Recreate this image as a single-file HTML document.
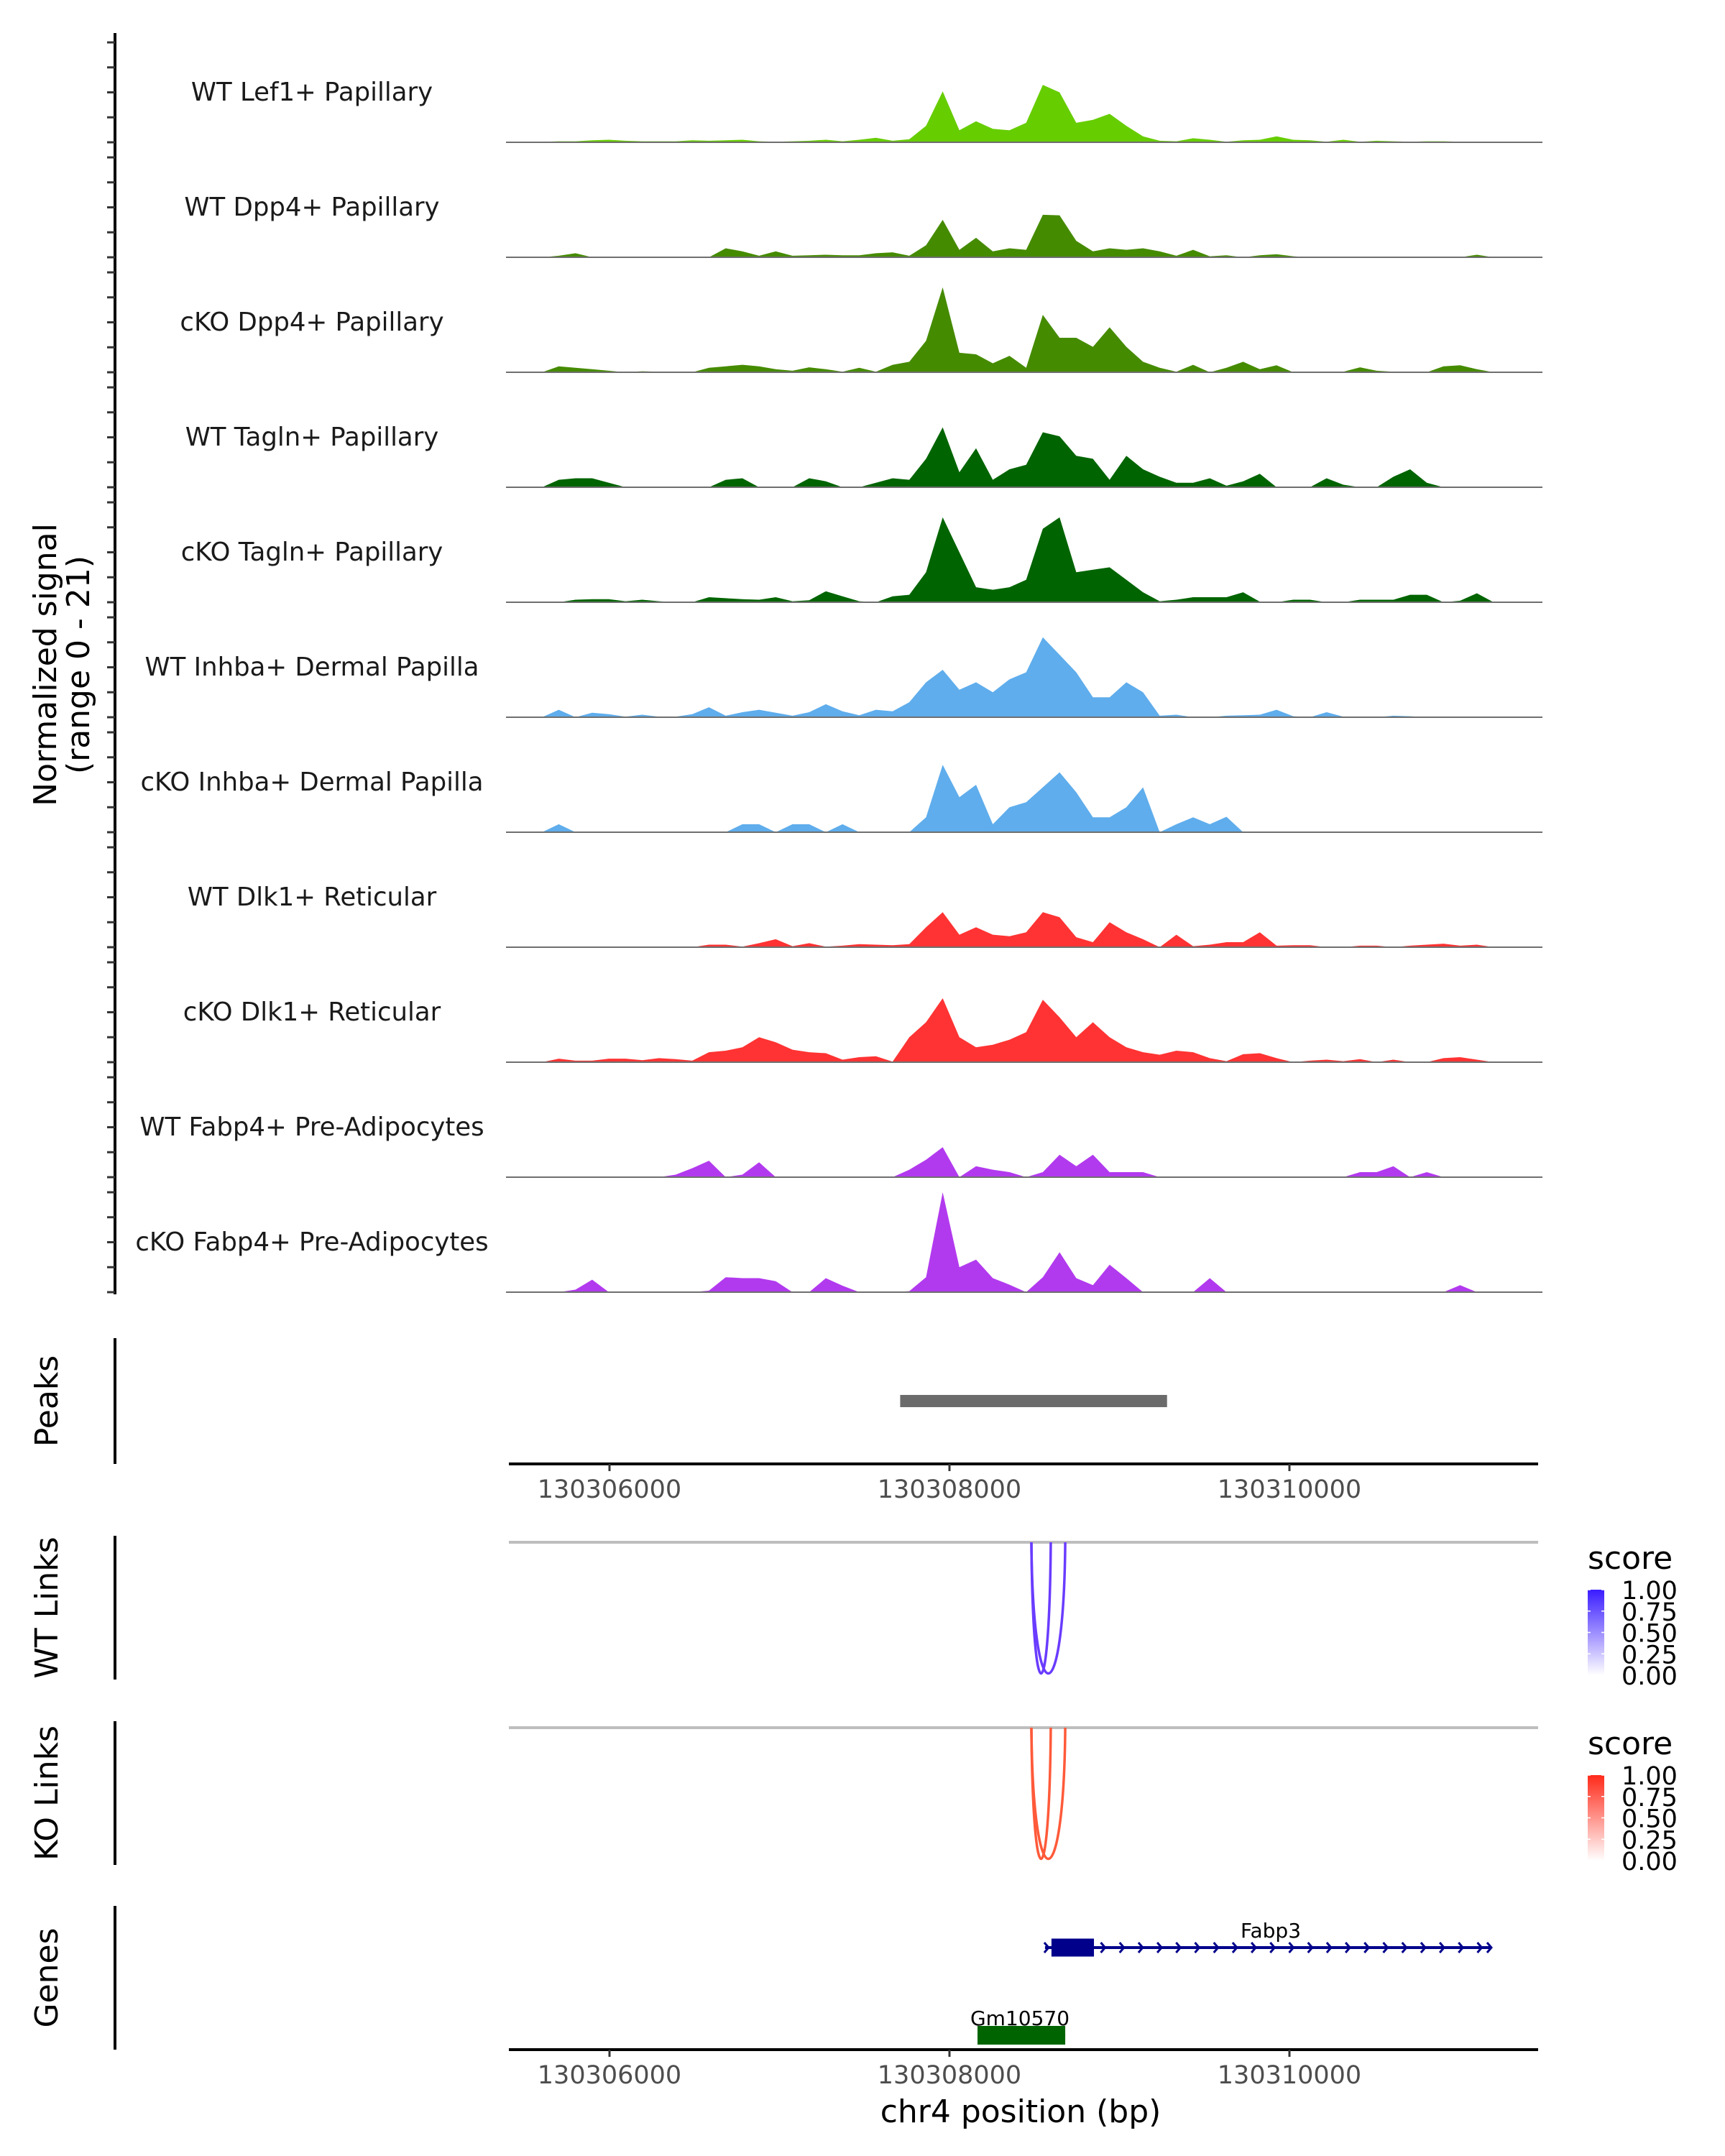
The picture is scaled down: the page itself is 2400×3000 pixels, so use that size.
<!DOCTYPE html>
<html><head><meta charset="utf-8"><style>
html,body{margin:0;padding:0;background:#fff}
svg{display:block;font-family:"DejaVu Sans","Liberation Sans",sans-serif}
</style></head><body>
<svg id="fig" width="2400" height="3000" viewBox="0 0 2400 3000" xmlns="http://www.w3.org/2000/svg">
<rect width="2400" height="3000" fill="#fff"/>
<g id="tracks"></g>
<g id="lower"></g>
</svg>
<script>
// ---- data ----
const trackNames = ["WT Lef1+ Papillary","WT Dpp4+ Papillary","cKO Dpp4+ Papillary","WT Tagln+ Papillary","cKO Tagln+ Papillary","WT Inhba+ Dermal Papilla","cKO Inhba+ Dermal Papilla","WT Dlk1+ Reticular","cKO Dlk1+ Reticular","WT Fabp4+ Pre-Adipocytes","cKO Fabp4+ Pre-Adipocytes"];
const trackColors = ["#66cd00","#458b00","#458b00","#006400","#006400","#5fadec","#5fadec","#ff3333","#ff3333","#b23aee","#b23aee"];
const binStart = 130305407;
const binStep = 98.2;
const sigLef1WT = [0,0,0.1,0.2,0.2,0.4,0.5,0.3,0.2,0.2, 0.2,0.4,0.3,0.4,0.5,0.2,0.1,0.2,0.3,0.5, 0.2,0.5,0.9,0.3,0.6,3.3,10.2,2.4,4.2,2.7, 2.4,3.9,11.5,10.0,3.9,4.5,5.7,3.3,1.2,0.3, 0.2,0.8,0.5,0.1,0.4,0.5,1.2,0.5,0.4,0.1, 0.5,0.1,0.3,0.2,0.1,0.2,0.2,0.1,0,0, 0,0];
const sigDpp4WT = [0,0,0,0.3,0.8,0,0,0,0,0, 0,0,0,1.8,1.2,0.3,1.2,0.3,0.4,0.5, 0.4,0.4,0.8,1.0,0.3,2.4,7.5,1.5,3.9,1.2, 1.8,1.5,8.5,8.4,3.3,1.2,1.8,1.5,1.8,1.2, 0.3,1.5,0.2,0.4,0,0.4,0.6,0.2,0,0, 0,0,0,0,0,0,0,0,0.5,0, 0,0];
const sigDpp4KO = [0,0,0,1.2,0.9,0.6,0.3,0,0.2,0.1, 0,0,0.9,1.2,1.5,1.2,0.6,0.3,1.0,0.6, 0.1,0.9,0.1,1.5,2.1,6.3,17,3.9,3.6,1.8, 3.3,0.9,11.5,6.9,6.9,5.1,9.0,5.1,2.1,0.9, 0.1,1.5,0,0.9,2.1,0.6,1.4,0,0,0, 0.1,1.0,0.3,0.1,0.1,0,1.2,1.4,0.6,0, 0,0];
const sigTaglnWT = [0,0,0,1.5,1.8,1.8,0.9,0,0,0, 0,0,0,1.5,1.8,0,0,0,1.8,1.2, 0,0,0.9,1.8,1.5,5.7,12,3,7.8,1.5, 3.6,4.5,11,10.2,6.3,5.7,1.5,6.3,3.6,2.1, 0.9,0.9,1.8,0.3,1.2,2.7,0,0,0,1.8, 0.5,0,0,2.1,3.6,0.9,0,0,0,0, 0,0];
const sigTaglnKO = [0,0,0,0,0.5,0.6,0.6,0.2,0.5,0.2, 0,0,1.0,0.8,0.6,0.5,1.0,0.2,0.4,2.2, 1.2,0.2,0,1.2,1.5,6,17,10,3,2.5, 3,4.5,14.7,17,6,6.5,7,4.5,2,0.2, 0.5,1,1,1,2,0.1,0,0.5,0.5,0, 0,0.5,0.5,0.5,1.5,1.5,0,0.3,1.8,0, 0,0];
const sigInhbaWT = [0,0,0,1.5,0,0.9,0.6,0.1,0.5,0.1, 0.1,0.6,2.0,0.3,1.0,1.5,0.9,0.3,1.0,2.6, 1.2,0.4,1.5,1.2,3,7,9.5,5.5,7,5, 7.6,9,16,12.5,9,4,4,7,5,0.3, 0.5,0,0,0.3,0.4,0.5,1.5,0.2,0,1, 0.1,0,0,0.3,0.2,0,0,0,0,0, 0,0];
const sigInhbaKO = [0,0,0,1.6,0,0,0,0,0,0, 0,0,0,0,1.6,1.6,0,1.6,1.6,0, 1.6,0,0,0,0,3,13.5,7,9.5,1.6, 5,6,9,12,8,3,3,5,9,0, 1.6,3,1.6,3.1,0,0,0,0,0,0, 0,0,0,0,0,0,0,0,0,0, 0,0];
const sigDlk1WT = [0,0,0,0,0,0,0,0,0,0, 0,0,0.5,0.5,0.1,0.8,1.6,0.2,0.8,0.1, 0.3,0.6,0.5,0.4,0.6,4,7,2.5,4,2.5, 2.2,3,7,6,2,1,5,3,1.6,0, 2.5,0.2,0.5,1,1,3,0.3,0.4,0.4,0, 0,0.3,0.3,0,0.3,0.5,0.7,0.3,0.5,0, 0,0];
const sigDlk1KO = [0,0,0,0.7,0.3,0.3,0.7,0.7,0.4,0.8, 0.6,0.3,2,2.3,3,5,4,2.5,2,1.8, 0.5,1,1.2,0.1,5,8,12.8,5,3,3.5, 4.5,6,12.5,9,5,8,5,3,2,1.5, 2.3,2,0.8,0.2,1.6,1.8,0.8,0,0.3,0.5, 0.2,0.6,0,0.5,0,0,0.8,1,0.5,0, 0,0];
const sigFabp4WT = [0,0,0,0,0,0,0,0,0,0, 0.5,1.8,3.3,0,0.5,3,0,0,0,0, 0,0,0,0,1.5,3.5,6,0,2.2,1.5, 1,0,1,4.5,2.2,4.5,1,1,1,0, 0,0,0,0,0,0,0,0,0,0, 0,1,1,2.2,0,1,0,0,0,0, 0,0];
const sigFabp4KO = [0,0,0,0,0.5,2.5,0,0,0,0, 0,0,0.3,3,2.8,2.8,2.2,0,0,2.8, 1.3,0,0,0,0.2,3,20,5,6.5,2.8, 1.5,0,3,8,2.8,1.4,5.5,2.8,0,0, 0,0,2.8,0,0,0,0,0,0,0, 0,0,0,0,0,0,0,1.4,0,0, 0,0];
const signals = [sigLef1WT,sigDpp4WT,sigDpp4KO,sigTaglnWT,sigTaglnKO,sigInhbaWT,sigInhbaKO,sigDlk1WT,sigDlk1KO,sigFabp4WT,sigFabp4KO];
const xTicks = [130306000,130308000,130310000];
const peakRegions = [[130307710,130309280]];
const wtLinks = [[130308482,130308596,0.8],[130308482,130308681,0.8]];
const koLinks = [[130308482,130308596,0.8],[130308482,130308681,0.8]];
const geneNames = ["Fabp3","Gm10570"];
const geneStart = [130308562,130308165];
const geneEnd = [130311188,130308681];
const exonStart = [130308600,130308165];
const exonEnd = [130308850,130308681];
const legendTicks = ["1.00","0.75","0.50","0.25","0.00"];

// ---- scales ----
const X0=708, X1=2140, BP0=130308000, PXPERBP=0.2365;
function xs(bp){return 1321+(bp-BP0)*PXPERBP;}
const YMAX=21, UNIT=6.95;
function ys(v,base){return base-v*UNIT;}
const NS="http://www.w3.org/2000/svg";
function mk(tag,attrs,parent){const e=document.createElementNS(NS,tag);for(const k in attrs)e.setAttribute(k,attrs[k]);parent.appendChild(e);return e;}

const T=document.getElementById('tracks');
const L=document.getElementById('lower');
let ax=mk('line',{x1:160,y1:46,x2:160,y2:1801,stroke:'#000','stroke-width':4},T);


const title=mk('text',{transform:'translate(78,925) rotate(-90)','text-anchor':'middle','font-size':44,fill:'#000'},T);


mk('tspan',{x:0,dy:0},title).textContent='Normalized signal';
mk('tspan',{x:0,dy:46},title).textContent='(range 0 - 21)';

signals.forEach((s,t)=>{
  const base=198+t*160;
  const g=mk('g',{},T);
  
  
  [0,5,10,15,20].forEach(v=>{
    const tk=mk('line',{x1:149,x2:160,y1:ys(v,base),y2:ys(v,base),stroke:'#333','stroke-width':3},g);
    
    
  });
  let pts=[];
  pts.push(xs(binStart)+','+base);
  s.forEach((v,i)=>{pts.push(xs(binStart+i*binStep).toFixed(1)+','+ys(v,base).toFixed(1));});
  pts.push(xs(binStart+(s.length-1)*binStep)+','+base);
  const area=mk('polygon',{points:pts.join(' '),fill:trackColors[t]},g);
  
  
  const bl=mk('line',{x1:X0-4,x2:X1+6,y1:base,y2:base,stroke:'#6f6f6f','stroke-width':2},g);
  
  
  const lb=mk('text',{x:434,y:base-58,'text-anchor':'middle','font-size':35.5,fill:'#1a1a1a'},g);
  
  
  lb.textContent=trackNames[t];
});

function panelAxis(y1,y2,label,name){
  const l=mk('line',{x1:160,x2:160,y1:y1,y2:y2,stroke:'#000','stroke-width':4},L);
  
  
  const t=mk('text',{transform:`translate(80,${(y1+y2)/2}) rotate(-90)`,'text-anchor':'middle','font-size':44,fill:'#000'},L);
  
  
  t.textContent=label;
}
function xAxis(y,name){
  const l=mk('line',{x1:X0,x2:X1,y1:y,y2:y,stroke:'#000','stroke-width':4},L);
  
  
  xTicks.forEach(b=>{
    const tk=mk('line',{x1:xs(b),x2:xs(b),y1:y,y2:y+10,stroke:'#333','stroke-width':3},L);
    
    
    const tl=mk('text',{x:xs(b),y:y+47,'text-anchor':'middle','font-size':35,fill:'#4d4d4d'},L);
    
    
    tl.textContent=b;
  });
}
panelAxis(1862,2037,'Peaks','peaks');
peakRegions.forEach(p=>{
  const r=mk('rect',{x:xs(p[0]),y:1941,width:xs(p[1])-xs(p[0]),height:17,fill:'#6b6b6b'},L);
  
  
});
xAxis(2037,'peaks-x-axis');

function linksPanel(y1,y2,links,col,legCol,name,label){
  panelAxis(y1,y2,label,name);
  const top=y1+9;
  const gl=mk('line',{x1:X0,x2:X1,y1:top,y2:top,stroke:'#bebebe','stroke-width':4},L);
  
  
  const d=183;
  links.forEach(k=>{
    const a=xs(k[0]),b=xs(k[1]);
    const p=mk('path',{d:`M${a},${top} C${a+2},${top+d*1.33} ${b-2},${top+d*1.33} ${b},${top}`,fill:'none',stroke:col,'stroke-width':3.5},L);
    
    
  });
  const lt=mk('text',{x:2209,y:top+37,'font-size':44,fill:'#000'},L);
  
  
  lt.textContent='score';
  const gid='grad-'+name;
  const defs=mk('defs',{},L);
  const lg=mk('linearGradient',{id:gid,x1:0,y1:0,x2:0,y2:1},defs);
  mk('stop',{offset:0,'stop-color':legCol},lg);
  mk('stop',{offset:1,'stop-color':'#ffffff'},lg);
  const by=top+66;
  const bar=mk('rect',{x:2209,y:by,width:23,height:119,fill:`url(#${gid})`},L);
  
  
  legendTicks.forEach((s,i)=>{
    const yy=by+i*29.75;
    mk('line',{x1:2209,x2:2213,y1:yy,y2:yy,stroke:'#fff','stroke-width':1.5},L);
    mk('line',{x1:2228,x2:2232,y1:yy,y2:yy,stroke:'#fff','stroke-width':1.5},L);
    const tx=mk('text',{x:2256,y:yy+13,'font-size':35,fill:'#000'},L);
    
    
    tx.textContent=s;
  });
}
linksPanel(2137,2337,wtLinks,'#6a3cff','#3a1cff','wt-links','WT Links');
linksPanel(2395,2595,koLinks,'#ff5a3a','#ff2a1a','ko-links','KO Links');

panelAxis(2652,2852,'Genes','genes');
const gy=[2710,2832];
const gcol=['#00008b','#006400'];
geneNames.forEach((n,i)=>{
  const g=mk('g',{},L);
  
  
  const a=xs(geneStart[i]),b=xs(geneEnd[i]);
  mk('line',{x1:a,x2:b,y1:gy[i],y2:gy[i],stroke:gcol[i],'stroke-width':4},g);
  if(i===0){
    for(let x=a+4;x<=b-2;x+=26.2){
      mk('polyline',{points:`${x-5},${gy[i]-7} ${x+1},${gy[i]} ${x-5},${gy[i]+7}`,fill:'none',stroke:gcol[i],'stroke-width':3},g);
    }
    mk('polyline',{points:`${b-6},${gy[i]-7} ${b},${gy[i]} ${b-6},${gy[i]+7}`,fill:'none',stroke:gcol[i],'stroke-width':3},g);
  }
  const h=i===0?25:26;
  mk('rect',{x:xs(exonStart[i]),y:gy[i]-h/2,width:xs(exonEnd[i])-xs(exonStart[i]),height:h,fill:gcol[i]},g);
  const t=mk('text',{x:i===0?1768:1419,y:i===0?2696:2818,'text-anchor':'middle','font-size':28,fill:'#000'},g);
  
  
  t.textContent=n;
});
xAxis(2852,'genes-x-axis');
const xt=mk('text',{x:1420,y:2953,'text-anchor':'middle','font-size':44,fill:'#000'},L);


xt.textContent='chr4 position (bp)';
</script>
</body></html>
